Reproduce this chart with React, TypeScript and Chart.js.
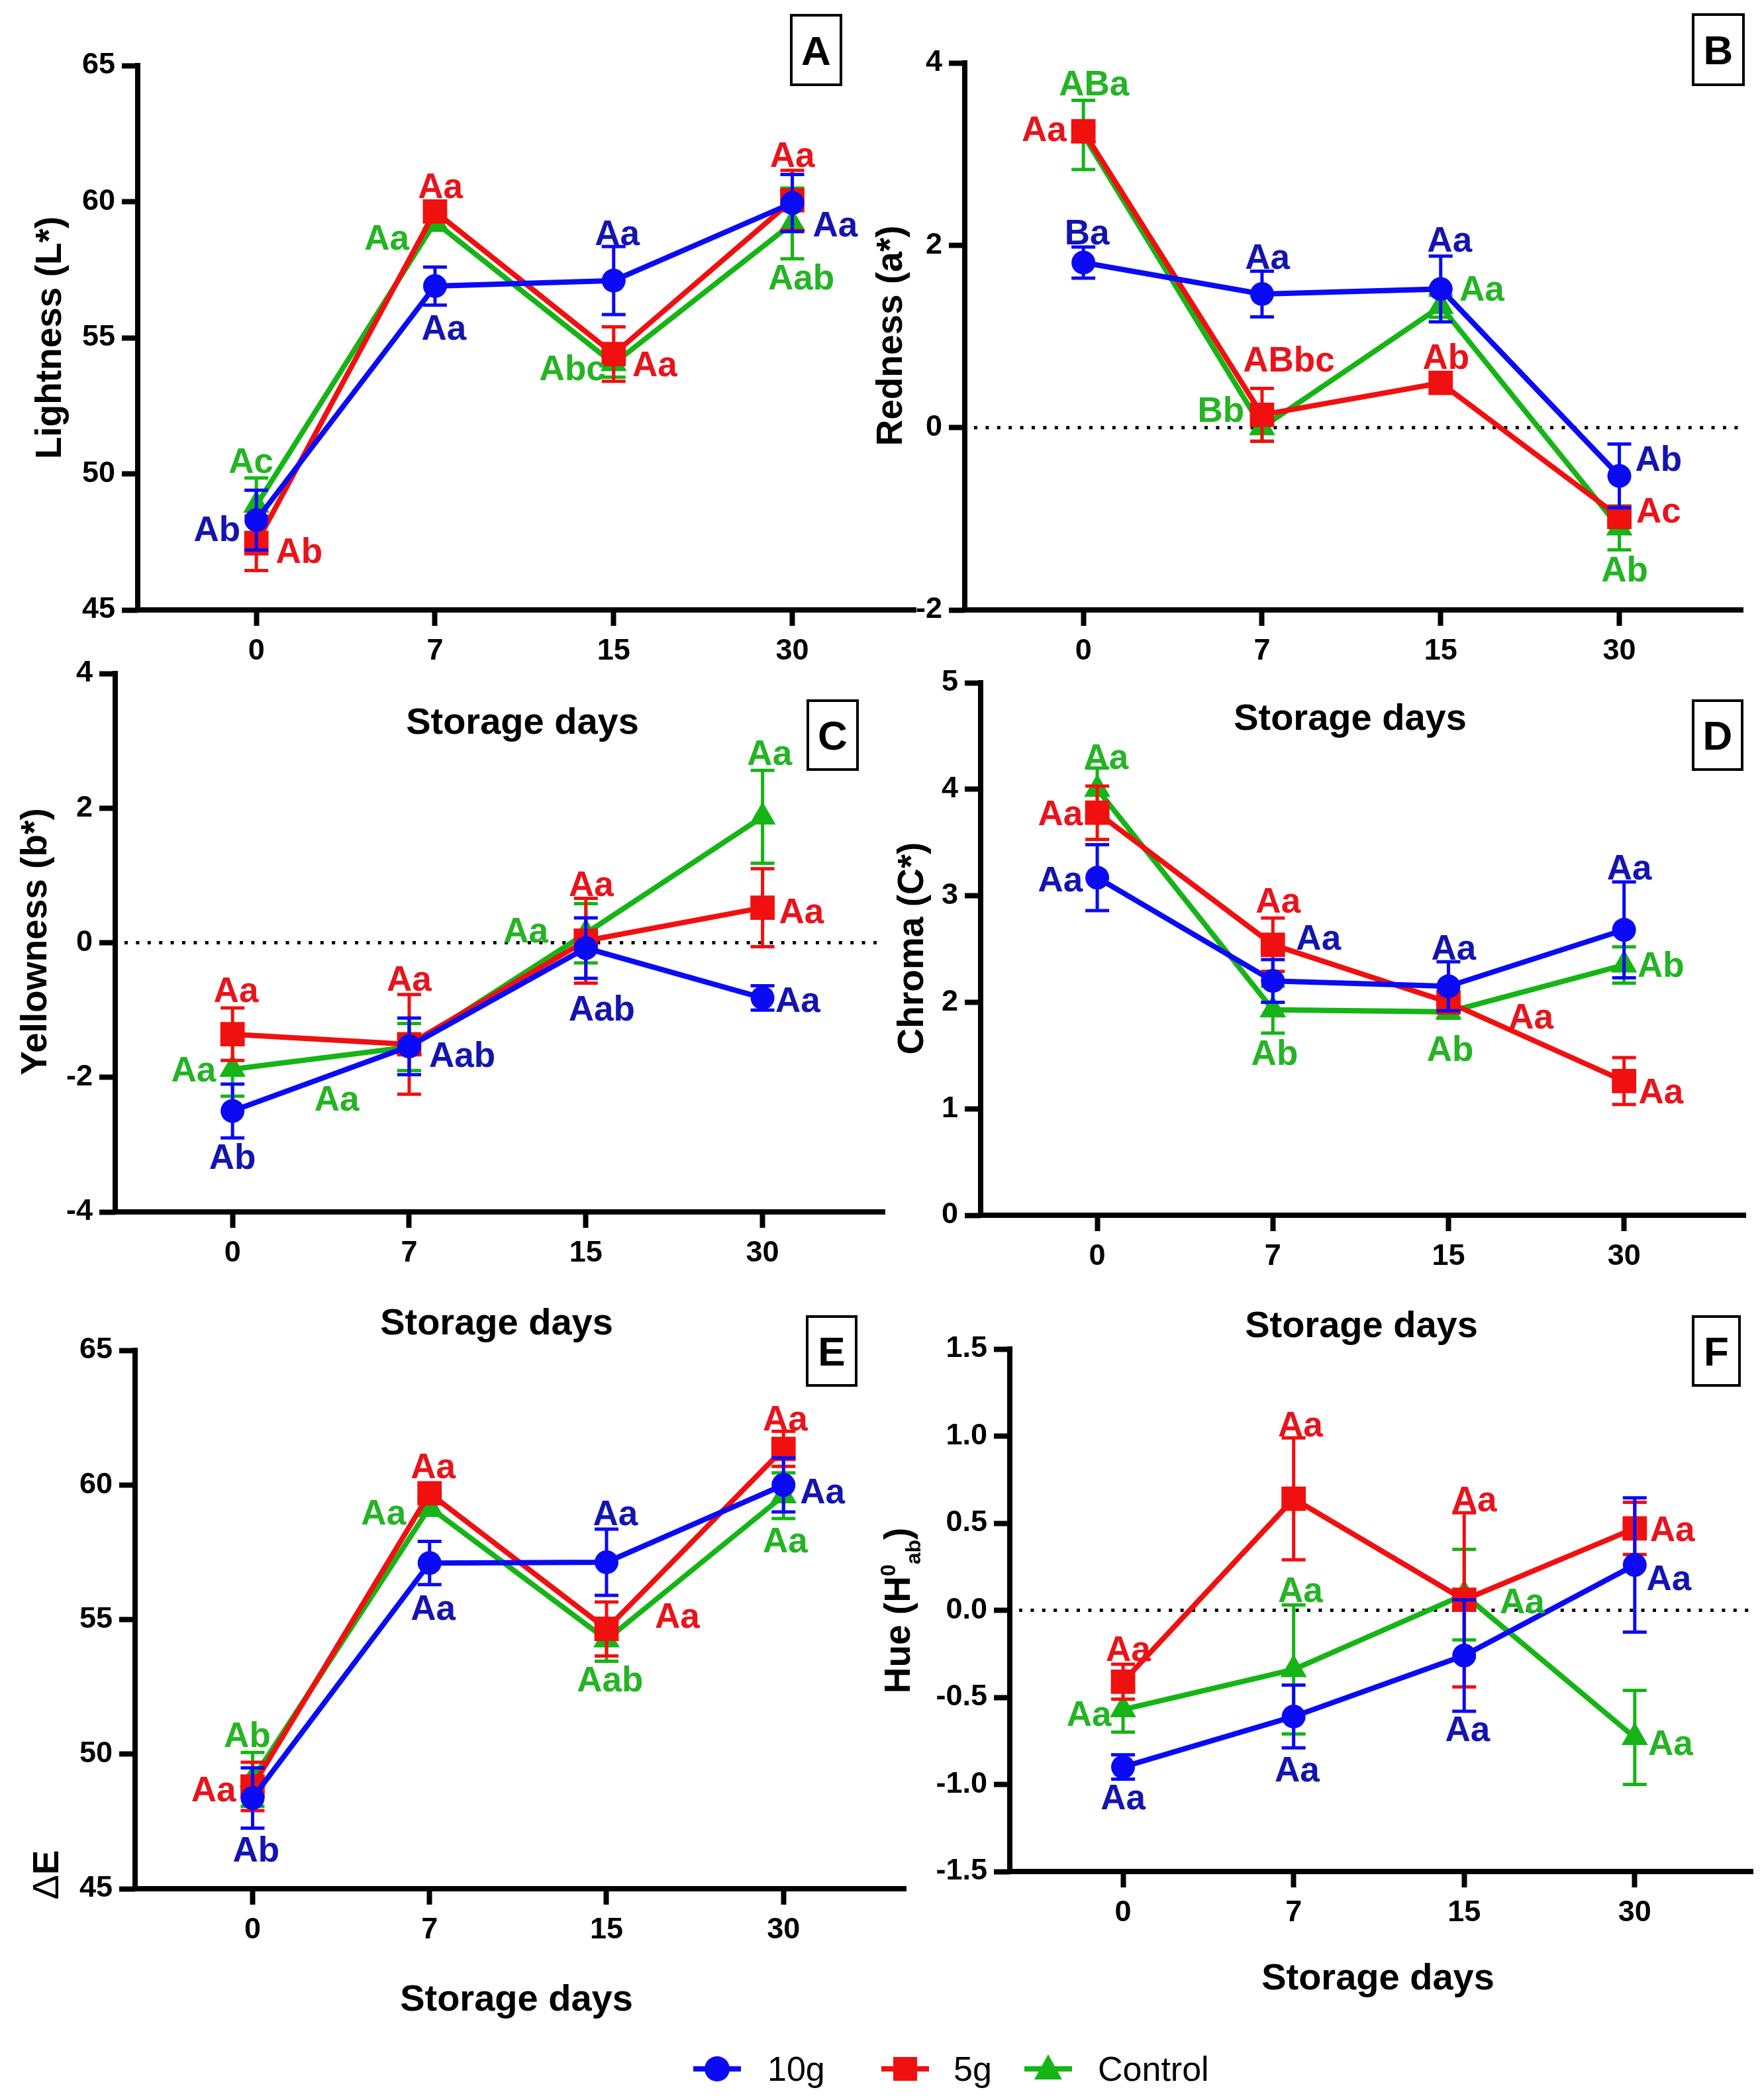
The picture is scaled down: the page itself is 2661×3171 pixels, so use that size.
import { useEffect, useRef } from "react";
import { Chart, registerables } from "chart.js";

Chart.register(...registerables);
Chart.defaults.font.family = "'Liberation Sans', Arial, Helvetica, sans-serif";

const DAYS = ["0", "7", "15", "30"];
const GROUPS = ["10g", "5g", "Control"];
const LINE_COLORS = ["#0a0af5", "#f01010", "#16b416"];
const TEXT_COLORS = ["#1414b0", "#e8141c", "#24b424"];
const MARKERS = ["circle", "rect", "triangle"];
const RADII = [18, 26, 23];

// rows: 10g, 5g, Control ; columns: day 0, 7, 15, 30
const L_MEAN = [
  [48.3, 56.9, 57.1, 59.95],
  [47.45, 59.64, 54.4, 60.05],
  [48.85, 59.25, 54.05, 59.2],
];
const L_SD = [
  [1.1, 0.7, 1.25, 1.05],
  [1.0, 0.3, 1.0, 1.1],
  [1.0, 0.3, 0.5, 1.3],
];
const L_TAGS: [number, number, number, string][] = [
  [2, -0.03, 50.51, "Ac"], [0, -0.22, 48.0, "Ab"], [1, 0.24, 47.2, "Ab"],
  [1, 1.03, 60.6, "Aa"], [2, 0.73, 58.7, "Aa"], [0, 1.05, 55.4, "Aa"],
  [0, 2.02, 58.87, "Aa"], [2, 1.77, 53.9, "Abc"], [1, 2.23, 54.05, "Aa"],
  [1, 3.0, 61.74, "Aa"], [0, 3.24, 59.18, "Aa"], [2, 3.05, 57.24, "Aab"],
];

const A_MEAN = [
  [1.81, 1.465, 1.52, -0.53],
  [3.25, 0.14, 0.49, -0.98],
  [3.21, 0.0, 1.33, -1.1],
];
const A_SD = [
  [0.17, 0.25, 0.36, 0.35],
  [0.05, 0.29, 0.05, 0.06],
  [0.38, 0.15, 0.12, 0.24],
];
const A_TAGS: [number, number, number, string][] = [
  [2, 0.06, 3.78, "ABa"], [1, -0.22, 3.28, "Aa"], [0, 0.02, 2.15, "Ba"],
  [0, 1.03, 1.88, "Aa"], [1, 1.15, 0.75, "ABbc"], [2, 0.77, 0.2, "Bb"],
  [0, 2.05, 2.07, "Aa"], [2, 2.23, 1.53, "Aa"], [1, 2.03, 0.78, "Ab"],
  [0, 3.22, -0.34, "Ab"], [1, 3.22, -0.9, "Ac"], [2, 3.03, -1.55, "Ab"],
];

const B_MEAN = [
  [-2.5, -1.54, -0.08, -0.82],
  [-1.36, -1.51, 0.03, 0.52],
  [-1.88, -1.55, 0.14, 1.87],
];
const B_SD = [
  [0.4, 0.42, 0.45, 0.18],
  [0.39, 0.74, 0.63, 0.58],
  [0.4, 0.35, 0.44, 0.69],
];
const B_TAGS: [number, number, number, string][] = [
  [1, 0.02, -0.69, "Aa"], [2, -0.22, -1.87, "Aa"], [0, 0.0, -3.17, "Ab"],
  [2, 0.59, -2.31, "Aa"], [1, 1.0, -0.53, "Aa"], [0, 1.3, -1.66, "Aab"],
  [2, 1.66, 0.19, "Aa"], [1, 2.03, 0.88, "Aa"], [0, 2.09, -0.97, "Aab"],
  [2, 3.04, 2.83, "Aa"], [1, 3.22, 0.48, "Aa"], [0, 3.2, -0.84, "Aa"],
];

const C_MEAN = [
  [3.17, 2.2, 2.15, 2.68],
  [3.78, 2.54, 2.0, 1.26],
  [4.0, 1.93, 1.91, 2.35],
];
const C_SD = [
  [0.31, 0.2, 0.23, 0.45],
  [0.25, 0.25, 0.1, 0.22],
  [0.2, 0.22, 0.06, 0.17],
];
const C_TAGS: [number, number, number, string][] = [
  [2, 0.05, 4.31, "Aa"], [1, -0.21, 3.78, "Aa"], [0, -0.21, 3.16, "Aa"],
  [1, 1.03, 2.96, "Aa"], [0, 1.26, 2.61, "Aa"], [2, 1.01, 1.53, "Ab"],
  [0, 2.03, 2.52, "Aa"], [2, 2.01, 1.57, "Ab"], [1, 2.47, 1.87, "Aa"],
  [0, 3.03, 3.27, "Aa"], [2, 3.21, 2.36, "Ab"], [1, 3.21, 1.17, "Aa"],
];

const E_MEAN = [
  [48.37, 57.1, 57.13, 60.0],
  [48.8, 59.69, 54.65, 61.34],
  [49.06, 59.17, 54.25, 59.6],
];
const E_SD = [
  [1.12, 0.8, 1.23, 1.0],
  [0.9, 0.3, 1.0, 0.65],
  [1.0, 0.3, 0.8, 0.85],
];
const E_TAGS: [number, number, number, string][] = [
  [2, -0.03, 50.74, "Ab"], [1, -0.22, 48.72, "Aa"], [0, 0.02, 46.47, "Ab"],
  [1, 1.02, 60.73, "Aa"], [2, 0.74, 59.0, "Aa"], [0, 1.02, 55.46, "Aa"],
  [0, 2.05, 58.97, "Aa"], [1, 2.4, 55.15, "Aa"], [2, 2.02, 52.81, "Aab"],
  [1, 3.01, 62.49, "Aa"], [0, 3.22, 59.78, "Aa"], [2, 3.01, 57.96, "Aa"],
];

const H_MEAN = [
  [-0.9, -0.61, -0.26, 0.26],
  [-0.41, 0.64, 0.06, 0.47],
  [-0.57, -0.34, 0.09, -0.73],
];
const H_SD = [
  [0.07, 0.18, 0.32, 0.385],
  [0.1, 0.35, 0.5, 0.15],
  [0.13, 0.37, 0.26, 0.27],
];
const H_TAGS: [number, number, number, string][] = [
  [1, 0.03, -0.22, "Aa"], [2, -0.2, -0.59, "Aa"], [0, 0.0, -1.07, "Aa"],
  [1, 1.04, 1.07, "Aa"], [2, 1.04, 0.12, "Aa"], [0, 1.02, -0.91, "Aa"],
  [1, 2.06, 0.64, "Aa"], [2, 2.34, 0.055, "Aa"], [0, 2.02, -0.68, "Aa"],
  [1, 3.22, 0.47, "Aa"], [0, 3.2, 0.19, "Aa"], [2, 3.21, -0.76, "Aa"],
];

type Seg = { t: string; size: number; bold: boolean; rise: number };
type Panel = {
  letter: string;
  mean: number[][];
  sd: number[][];
  tags: [number, number, number, string][];
  yMin: number;
  yMax: number;
  yStep: number;
  dec: number;
  zero: boolean;
  ax: [number, number, number, number]; // page px: left, top, right, bottom
  box: [number, number, number, number];
  yTitle: Seg[];
  yTitleAt: [number, number];
  xTitleAt: [number, number];
};

const seg = (t: string, size = 55, bold = true, rise = 0): Seg => ({ t, size, bold, rise });

const PANELS: Panel[] = [
  {
    letter: "A", mean: L_MEAN, sd: L_SD, tags: L_TAGS, yMin: 45, yMax: 65, yStep: 5, dec: 0, zero: false,
    ax: [208, 99, 1380, 921], box: [1195, 23, 1270, 128],
    yTitle: [seg("Lightness (L*)")], yTitleAt: [72, 510], xTitleAt: [789, 1088],
  },
  {
    letter: "B", mean: A_MEAN, sd: A_SD, tags: A_TAGS, yMin: -2, yMax: 4, yStep: 2, dec: 0, zero: true,
    ax: [1457, 95, 2629, 921], box: [2557, 22, 2633, 128],
    yTitle: [seg("Redness (a*)")], yTitleAt: [1342, 507], xTitleAt: [2039, 1082],
  },
  {
    letter: "C", mean: B_MEAN, sd: B_SD, tags: B_TAGS, yMin: -4, yMax: 4, yStep: 2, dec: 0, zero: true,
    ax: [174, 1017, 1333, 1830], box: [1220, 1058, 1295, 1162],
    yTitle: [seg("Yellowness (b*)")], yTitleAt: [50, 1422], xTitleAt: [750, 1995],
  },
  {
    letter: "D", mean: C_MEAN, sd: C_SD, tags: C_TAGS, yMin: 0, yMax: 5, yStep: 1, dec: 0, zero: false,
    ax: [1481, 1031, 2633, 1835], box: [2557, 1058, 2631, 1162],
    yTitle: [seg("Chroma (C*)")], yTitleAt: [1374, 1432], xTitleAt: [2056, 1999],
  },
  {
    letter: "E", mean: E_MEAN, sd: E_SD, tags: E_TAGS, yMin: 45, yMax: 65, yStep: 5, dec: 0, zero: false,
    ax: [204, 2039, 1365, 2852], box: [1219, 1988, 1293, 2092],
    yTitle: [seg("\u0394", 56, false), seg("E", 56)], yTitleAt: [68, 2831], xTitleAt: [780, 3016],
  },
  {
    letter: "F", mean: H_MEAN, sd: H_SD, tags: H_TAGS, yMin: -1.5, yMax: 1.5, yStep: 0.5, dec: 1, zero: true,
    ax: [1525, 2037, 2644, 2826], box: [2557, 1988, 2627, 2092],
    yTitle: [seg("Hue (H"), seg("0", 32, true, 22), seg("ab", 32, true, -16), seg(")")],
    yTitleAt: [1354, 2432], xTitleAt: [2081, 2984],
  },
];

const PAD_L = 200;
const PAD_T = 90;
const PAD_R = 30;
const PAD_B = 200;
const X_MIN = -0.664;
const X_MAX = 3.68;

const fontStr = (size: number, bold: boolean) =>
  `${bold ? "bold " : ""}${size}px 'Liberation Sans', Arial, sans-serif`;

function makeDecor(p: Panel, cl: number, ct: number) {
  return {
    id: "panelDecor",
    beforeDatasetsDraw(chart: any) {
      const { ctx, chartArea: a, scales } = chart;
      ctx.save();
      if (p.zero) {
        const y0 = scales.y.getPixelForValue(0);
        ctx.strokeStyle = "#000";
        ctx.lineWidth = 5;
        ctx.setLineDash([5, 12.4]);
        ctx.beginPath();
        ctx.moveTo(a.left + 14, y0);
        ctx.lineTo(a.right, y0);
        ctx.stroke();
        ctx.setLineDash([]);
      }
      ctx.strokeStyle = "#000";
      ctx.lineWidth = 8;
      ctx.lineCap = "square";
      ctx.beginPath();
      ctx.moveTo(a.left, a.top);
      ctx.lineTo(a.left, a.bottom);
      ctx.lineTo(a.right, a.bottom);
      ctx.stroke();
      ctx.restore();
    },
    beforeDatasetDraw(chart: any, args: any) {
      const s = args.index;
      const { ctx, scales } = chart;
      ctx.save();
      ctx.strokeStyle = LINE_COLORS[s];
      ctx.lineWidth = 5;
      p.mean[s].forEach((m, i) => {
        const e = p.sd[s][i];
        const x = scales.x.getPixelForValue(i);
        const hi = scales.y.getPixelForValue(m + e);
        const lo = scales.y.getPixelForValue(m - e);
        ctx.beginPath();
        ctx.moveTo(x, hi);
        ctx.lineTo(x, lo);
        ctx.moveTo(x - 18, hi);
        ctx.lineTo(x + 18, hi);
        ctx.moveTo(x - 18, lo);
        ctx.lineTo(x + 18, lo);
        ctx.stroke();
      });
      ctx.restore();
    },
    afterDatasetsDraw(chart: any) {
      const { ctx, scales } = chart;
      ctx.save();
      // significance letters
      ctx.font = fontStr(53, true);
      ctx.textAlign = "center";
      ctx.textBaseline = "alphabetic";
      p.tags.forEach(([s, xi, yv, t]) => {
        ctx.fillStyle = TEXT_COLORS[s];
        ctx.fillText(t, scales.x.getPixelForValue(xi), scales.y.getPixelForValue(yv) + 19);
      });
      // panel letter box
      const [bx1, by1, bx2, by2] = p.box;
      ctx.strokeStyle = "#000";
      ctx.lineWidth = 4;
      ctx.strokeRect(bx1 - cl, by1 - ct, bx2 - bx1, by2 - by1);
      ctx.fillStyle = "#000";
      ctx.font = fontStr(62, true);
      ctx.fillText(p.letter, (bx1 + bx2) / 2 - cl, (by1 + by2) / 2 - ct + 22);
      // x title
      ctx.font = fontStr(56, true);
      ctx.fillText("Storage days", p.xTitleAt[0] - cl, p.xTitleAt[1] - ct + 20);
      // y title (rotated)
      ctx.translate(p.yTitleAt[0] - cl, p.yTitleAt[1] - ct);
      ctx.rotate(-Math.PI / 2);
      ctx.textAlign = "left";
      let total = 0;
      p.yTitle.forEach((g) => {
        ctx.font = fontStr(g.size, g.bold);
        total += ctx.measureText(g.t).width;
      });
      let x = -total / 2;
      p.yTitle.forEach((g) => {
        ctx.font = fontStr(g.size, g.bold);
        ctx.fillText(g.t, x, 20 - g.rise);
        x += ctx.measureText(g.t).width;
      });
      ctx.restore();
    },
  };
}

function PanelChart({ p }: { p: Panel }) {
  const ref = useRef<HTMLCanvasElement | null>(null);
  const [L, T, R, B] = p.ax;
  const cl = L - PAD_L;
  const ct = T - PAD_T;
  const w = R - L + PAD_L + PAD_R;
  const h = B - T + PAD_T + PAD_B;

  useEffect(() => {
    if (!ref.current) return;
    const yTicks: number[] = [];
    const n = Math.round((p.yMax - p.yMin) / p.yStep);
    for (let i = 0; i <= n; i++) yTicks.push(+(p.yMin + i * p.yStep).toFixed(3));

    const chart = new Chart(ref.current, {
      type: "line",
      data: {
        datasets: GROUPS.map((g, s) => ({
          label: g,
          data: p.mean[s].map((y, i) => ({ x: i, y })),
          borderColor: LINE_COLORS[s],
          backgroundColor: LINE_COLORS[s],
          borderWidth: 8,
          pointStyle: MARKERS[s] as any,
          pointRadius: RADII[s],
          pointHoverRadius: RADII[s],
          pointBorderWidth: 0,
          tension: 0,
          clip: false as any,
        })),
      },
      options: {
        animation: false,
        responsive: false,
        devicePixelRatio: 1,
        events: [],
        layout: { padding: { left: 0, top: PAD_T, right: PAD_R, bottom: 0 } },
        plugins: { legend: { display: false }, tooltip: { enabled: false } },
        scales: {
          x: {
            type: "linear",
            min: X_MIN,
            max: X_MAX,
            afterFit: (sc: any) => { sc.height = PAD_B; },
            afterBuildTicks: (sc: any) => { sc.ticks = [0, 1, 2, 3].map((v) => ({ value: v })); },
            ticks: {
              callback: (v: any) => DAYS[v as number],
              font: { size: 45, weight: "bold" },
              color: "#000",
              padding: 12,
              maxRotation: 0,
              autoSkip: false,
            },
            grid: { drawOnChartArea: false, tickLength: 24, tickWidth: 8, tickColor: "#000" },
            border: { display: false },
          },
          y: {
            type: "linear",
            min: p.yMin,
            max: p.yMax,
            afterFit: (sc: any) => { sc.width = PAD_L; },
            afterBuildTicks: (sc: any) => { sc.ticks = yTicks.map((v) => ({ value: v })); },
            ticks: {
              callback: (v: any) => Number(v).toFixed(p.dec),
              font: { size: 45, weight: "bold" },
              color: "#000",
              padding: 10,
              autoSkip: false,
            },
            grid: { drawOnChartArea: false, tickLength: 24, tickWidth: 8, tickColor: "#000" },
            border: { display: false },
          },
        },
      },
      plugins: [makeDecor(p, cl, ct)],
    });
    return () => chart.destroy();
  }, [p]);

  return (
    <canvas
      ref={ref}
      width={w}
      height={h}
      style={{ position: "absolute", left: cl, top: ct, width: w, height: h }}
    />
  );
}

function Legend() {
  const lefts = [1047, 1331, 1547];
  const textLefts = [1159, 1440, 1658];
  const cy = 3124;
  return (
    <>
      {GROUPS.map((g, s) => {
        const mid = lefts[s] + 36;
        const shape: any =
          s === 0
            ? { width: 38, height: 38, borderRadius: "50%", left: mid - 19, top: cy - 19 }
            : s === 1
            ? { width: 36, height: 36, left: mid - 18, top: cy - 18 }
            : { width: 42, height: 38, left: mid - 21, top: cy - 22, clipPath: "polygon(50% 0, 100% 100%, 0 100%)" };
        return (
          <div key={g}>
            <div style={{ position: "absolute", left: lefts[s], top: cy - 4, width: 72, height: 8, background: LINE_COLORS[s] }} />
            <div style={{ position: "absolute", background: LINE_COLORS[s], ...shape }} />
            <span
              style={{
                position: "absolute",
                left: textLefts[s],
                top: cy - 26,
                font: "52px 'Liberation Sans', Arial, sans-serif",
                lineHeight: "52px",
                color: "#000",
                whiteSpace: "nowrap",
              }}
            >
              {g}
            </span>
          </div>
        );
      })}
    </>
  );
}

export default function App() {
  useEffect(() => {
    document.body.style.margin = "0";
  }, []);
  return (
    <div style={{ position: "relative", width: 2661, height: 3171, overflow: "hidden", background: "#fff" }}>
      {PANELS.map((p) => (
        <PanelChart key={p.letter} p={p} />
      ))}
      <Legend />
    </div>
  );
}
